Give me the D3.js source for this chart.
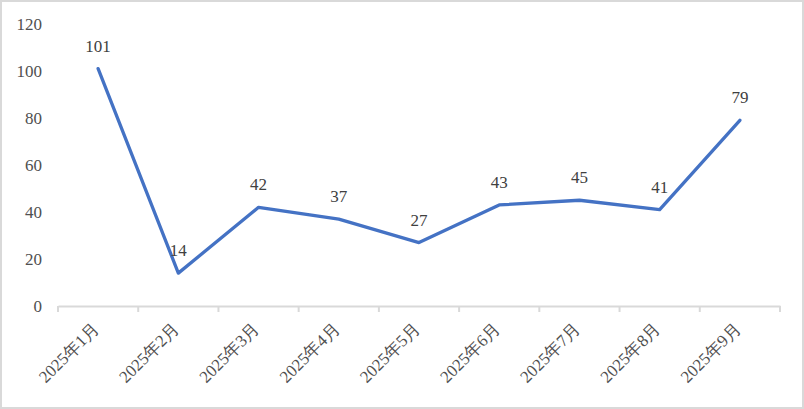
<!DOCTYPE html>
<html><head><meta charset="utf-8">
<script src="https://cdn.jsdelivr.net/npm/d3@7"></script>
<style>body{margin:0;background:#fff}svg{display:block}text{font-family:"Liberation Serif","Times New Roman",serif}</style>
</head><body>
<script>
const categories = ["2025年1月","2025年2月","2025年3月","2025年4月","2025年5月","2025年6月","2025年7月","2025年8月","2025年9月"];
const values = [101,14,42,37,27,43,45,41,79];
const yTicks = [0,20,40,60,80,100,120];

const W = 804, H = 409;
const svg = d3.select("body").append("svg").attr("width", W).attr("height", H);
svg.append("rect").attr("x",1).attr("y",1).attr("width",W-2).attr("height",H-2)
  .attr("fill","#fff").attr("stroke","#d9d9d9").attr("stroke-width",2);

const mLeft = 58, mRight = 780, mTop = 24, mBottom = 306;
const x = d3.scaleBand().domain(categories).range([mLeft,mRight]);
const y = d3.scaleLinear().domain([0,120]).range([mBottom,mTop]);

// y labels
const yAxis = svg.append("g").attr("transform",`translate(${mLeft},0)`)
  .call(d3.axisLeft(y).tickValues(yTicks).tickSize(0).tickPadding(16));
yAxis.select(".domain").remove();
yAxis.selectAll("text").attr("font-size",17).attr("fill","#505050");
yAxis.attr("font-family",null);

// x axis
const xAxis = svg.append("g").attr("transform",`translate(0,${mBottom})`)
  .call(d3.axisBottom(x).tickSize(0).tickFormat(""));
xAxis.select(".domain").attr("stroke","#d9d9d9").attr("stroke-width",2);
xAxis.selectAll(".tick").remove();
const edges = categories.map(c=>x(c)).concat([mRight]);
svg.append("g").selectAll("line").data(edges).join("line")
  .attr("x1",d=>d).attr("x2",d=>d).attr("y1",mBottom).attr("y2",mBottom+6)
  .attr("stroke","#d9d9d9").attr("stroke-width",2);
svg.append("g").selectAll("text").data(categories).join("text")
  .attr("transform",d=>`translate(${x(d)+x.bandwidth()/2-1},${mBottom+21}) rotate(-45)`)
  .attr("text-anchor","end").attr("dominant-baseline","middle")
  .attr("font-size",17).attr("fill","#505050").text(d=>d);

// line
const line = d3.line().x((d,i)=>x(categories[i])+x.bandwidth()/2).y(d=>y(d));
svg.append("path").datum(values).attr("d",line).attr("fill","none")
  .attr("stroke","#4472c4").attr("stroke-width",3.3).attr("stroke-linejoin","round").attr("stroke-linecap","round");

// data labels
svg.append("g").selectAll("text").data(values).join("text")
  .attr("x",(d,i)=>x(categories[i])+x.bandwidth()/2)
  .attr("y",d=>y(d)-17)
  .attr("text-anchor","middle").attr("font-size",17)
  .attr("fill","#404040").text(d=>d);
</script>
</body></html>
